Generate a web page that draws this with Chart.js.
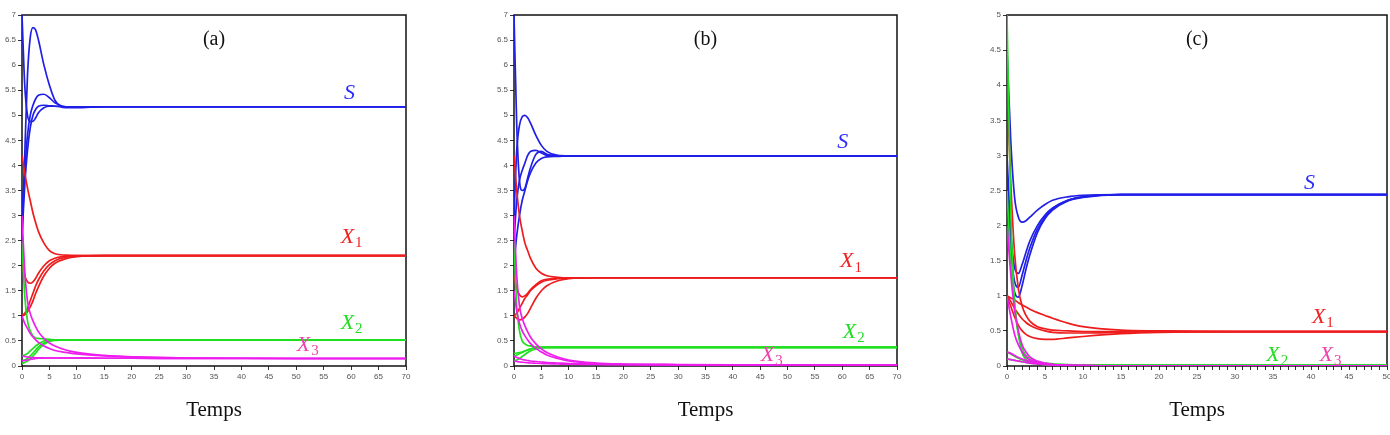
<!DOCTYPE html>
<html>
<head>
<meta charset="utf-8">
<script src="https://cdn.jsdelivr.net/npm/chart.js@4.4.0/dist/chart.umd.min.js"></script>
<style>
  body { margin: 0; background: #fff; width: 1390px; height: 435px; position: relative; overflow: hidden; }
  canvas { position: absolute; top: 0; }
</style>
</head>
<body>
<canvas id="ca" width="420" height="435" style="left:0px"></canvas>
<canvas id="cb" width="420" height="435" style="left:490px"></canvas>
<canvas id="cc" width="420" height="435" style="left:980px"></canvas>
<script>
// time grids
const tA = [0, 0.5, 1, 1.5, 2, 2.5, 3, 4, 5, 6, 8, 10, 15, 20, 30, 50, 70];
const tB = tA;
const tC = [0, 0.5, 1, 1.5, 2, 2.5, 3, 4, 5, 6, 8, 10, 15, 20, 30, 40, 50];

// panel (a)
const aS = [
  [7.0, 5.6, 5.0, 4.88, 4.88, 4.95, 5.05, 5.15, 5.18, 5.18, 5.17, 5.17, 5.17, 5.17, 5.17, 5.17, 5.17],
  [2.5, 4.2, 5.8, 6.55, 6.75, 6.7, 6.5, 6.0, 5.6, 5.3, 5.15, 5.15, 5.17, 5.17, 5.17, 5.17, 5.17],
  [3.0, 3.9, 4.6, 5.0, 5.2, 5.33, 5.4, 5.42, 5.35, 5.25, 5.17, 5.16, 5.17, 5.17, 5.17, 5.17, 5.17],
  [2.6, 3.6, 4.3, 4.75, 5.0, 5.12, 5.18, 5.2, 5.19, 5.18, 5.17, 5.17, 5.17, 5.17, 5.17, 5.17, 5.17]
];
const aX1 = [
  [4.2, 3.85, 3.55, 3.3, 3.05, 2.85, 2.68, 2.45, 2.3, 2.24, 2.21, 2.2, 2.2, 2.2, 2.2, 2.2, 2.2],
  [2.05, 1.8, 1.68, 1.65, 1.68, 1.75, 1.85, 2.0, 2.1, 2.15, 2.19, 2.2, 2.2, 2.2, 2.2, 2.2, 2.2],
  [1.0, 1.05, 1.15, 1.3, 1.45, 1.6, 1.72, 1.9, 2.02, 2.1, 2.17, 2.19, 2.2, 2.2, 2.2, 2.2, 2.2],
  [1.0, 1.02, 1.08, 1.18, 1.3, 1.45, 1.58, 1.8, 1.95, 2.05, 2.14, 2.18, 2.2, 2.2, 2.2, 2.2, 2.2]
];
const aX2 = [
  [2.5, 1.4, 0.9, 0.7, 0.6, 0.56, 0.55, 0.54, 0.53, 0.52, 0.52, 0.52, 0.52, 0.52, 0.52, 0.52, 0.52],
  [0.2, 0.22, 0.25, 0.3, 0.35, 0.4, 0.44, 0.5, 0.52, 0.52, 0.52, 0.52, 0.52, 0.52, 0.52, 0.52, 0.52],
  [0.1, 0.12, 0.15, 0.2, 0.26, 0.32, 0.38, 0.46, 0.5, 0.52, 0.52, 0.52, 0.52, 0.52, 0.52, 0.52, 0.52],
  [0.05, 0.07, 0.1, 0.14, 0.2, 0.26, 0.33, 0.43, 0.49, 0.51, 0.52, 0.52, 0.52, 0.52, 0.52, 0.52, 0.52]
];
const aX3 = [
  [3.0, 1.9, 1.3, 1.05, 0.9, 0.78, 0.68, 0.55, 0.46, 0.4, 0.32, 0.27, 0.21, 0.18, 0.16, 0.15, 0.15],
  [1.0, 0.85, 0.75, 0.65, 0.58, 0.52, 0.47, 0.4, 0.35, 0.31, 0.27, 0.24, 0.2, 0.18, 0.16, 0.15, 0.15],
  [0.1, 0.11, 0.12, 0.13, 0.14, 0.15, 0.155, 0.16, 0.16, 0.16, 0.16, 0.16, 0.155, 0.155, 0.15, 0.15, 0.15],
  [0.2, 0.19, 0.18, 0.17, 0.17, 0.165, 0.165, 0.16, 0.16, 0.16, 0.16, 0.16, 0.155, 0.155, 0.15, 0.15, 0.15]
];

// panel (b)
const bS = [
  [7.0, 4.8, 3.7, 3.5, 3.55, 3.75, 3.95, 4.22, 4.28, 4.22, 4.19, 4.19, 4.19, 4.19, 4.19, 4.19, 4.19],
  [3.0, 4.3, 4.8, 4.97, 5.0, 4.95, 4.85, 4.6, 4.4, 4.28, 4.2, 4.19, 4.19, 4.19, 4.19, 4.19, 4.19],
  [2.05, 2.6, 3.0, 3.3, 3.5, 3.7, 3.85, 4.05, 4.14, 4.17, 4.18, 4.19, 4.19, 4.19, 4.19, 4.19, 4.19],
  [2.5, 3.3, 3.7, 3.9, 4.05, 4.2, 4.28, 4.3, 4.25, 4.2, 4.19, 4.19, 4.19, 4.19, 4.19, 4.19, 4.19]
];
const bX1 = [
  [4.2, 3.5, 3.0, 2.7, 2.45, 2.3, 2.15, 1.95, 1.85, 1.8, 1.77, 1.76, 1.76, 1.76, 1.76, 1.76, 1.76],
  [1.8, 1.55, 1.42, 1.38, 1.4, 1.45, 1.52, 1.62, 1.7, 1.73, 1.75, 1.76, 1.76, 1.76, 1.76, 1.76, 1.76],
  [1.0, 0.95, 0.92, 0.93, 0.98, 1.05, 1.15, 1.35, 1.5, 1.6, 1.7, 1.74, 1.76, 1.76, 1.76, 1.76, 1.76],
  [1.0, 1.05, 1.15, 1.25, 1.35, 1.42, 1.5, 1.6, 1.67, 1.71, 1.74, 1.75, 1.76, 1.76, 1.76, 1.76, 1.76]
];
const bX2 = [
  [2.5, 1.2, 0.7, 0.5, 0.44, 0.41, 0.4, 0.38, 0.37, 0.37, 0.37, 0.37, 0.37, 0.37, 0.37, 0.37, 0.37],
  [0.2, 0.22, 0.25, 0.27, 0.3, 0.32, 0.34, 0.36, 0.37, 0.37, 0.37, 0.37, 0.37, 0.37, 0.37, 0.37, 0.37],
  [0.1, 0.12, 0.15, 0.19, 0.23, 0.27, 0.3, 0.34, 0.36, 0.37, 0.37, 0.37, 0.37, 0.37, 0.37, 0.37, 0.37],
  [0.25, 0.26, 0.27, 0.28, 0.3, 0.32, 0.34, 0.36, 0.37, 0.37, 0.37, 0.37, 0.37, 0.37, 0.37, 0.37, 0.37]
];
const bX3 = [
  [3.0, 1.8, 1.2, 0.95, 0.8, 0.68, 0.58, 0.44, 0.34, 0.27, 0.18, 0.12, 0.06, 0.04, 0.03, 0.02, 0.02],
  [1.5, 1.1, 0.85, 0.7, 0.6, 0.52, 0.45, 0.35, 0.28, 0.22, 0.15, 0.1, 0.05, 0.035, 0.025, 0.02, 0.02],
  [0.2, 0.17, 0.15, 0.13, 0.12, 0.11, 0.1, 0.09, 0.08, 0.07, 0.06, 0.05, 0.04, 0.03, 0.02, 0.02, 0.02],
  [0.1, 0.09, 0.08, 0.075, 0.07, 0.065, 0.06, 0.055, 0.05, 0.045, 0.04, 0.035, 0.03, 0.025, 0.02, 0.02, 0.02]
];

// panel (c)
const cS = [
  [4.5, 3.2, 2.4, 2.12, 2.05, 2.07, 2.12, 2.22, 2.3, 2.36, 2.41, 2.43, 2.44, 2.44, 2.44, 2.44, 2.44],
  [3.0, 1.9, 1.4, 1.32, 1.45, 1.62, 1.78, 2.0, 2.15, 2.25, 2.36, 2.41, 2.44, 2.44, 2.44, 2.44, 2.44],
  [2.5, 1.5, 1.05, 0.98, 1.15, 1.38, 1.58, 1.9, 2.1, 2.22, 2.35, 2.4, 2.44, 2.44, 2.44, 2.44, 2.44],
  [2.8, 1.7, 1.2, 1.12, 1.3, 1.5, 1.68, 1.95, 2.12, 2.24, 2.36, 2.41, 2.44, 2.44, 2.44, 2.44, 2.44]
];
const cX1 = [
  [4.0, 2.6, 1.6, 1.1, 0.85, 0.72, 0.64, 0.56, 0.53, 0.51, 0.5, 0.49, 0.49, 0.49, 0.49, 0.49, 0.49],
  [1.0, 0.97, 0.94, 0.9, 0.87, 0.84, 0.81, 0.76, 0.72, 0.68, 0.61, 0.56, 0.51, 0.5, 0.49, 0.49, 0.49],
  [1.0, 0.92, 0.82, 0.74, 0.67, 0.62, 0.58, 0.53, 0.5, 0.48, 0.47, 0.47, 0.48, 0.49, 0.49, 0.49, 0.49],
  [1.0, 0.85, 0.7, 0.58, 0.5, 0.45, 0.42, 0.39, 0.38, 0.38, 0.4, 0.42, 0.46, 0.48, 0.49, 0.49, 0.49]
];
const cX2 = [
  [5.0, 2.2, 0.9, 0.45, 0.25, 0.15, 0.1, 0.06, 0.04, 0.03, 0.02, 0.015, 0.01, 0.01, 0.01, 0.01, 0.01],
  [2.5, 1.5, 0.9, 0.45, 0.18, 0.1, 0.07, 0.05, 0.03, 0.02, 0.015, 0.01, 0.01, 0.01, 0.01, 0.01, 0.01],
  [0.2, 0.17, 0.14, 0.11, 0.09, 0.07, 0.06, 0.04, 0.03, 0.02, 0.01, 0.01, 0.01, 0.01, 0.01, 0.01, 0.01],
  [0.1, 0.09, 0.08, 0.07, 0.06, 0.05, 0.04, 0.03, 0.02, 0.015, 0.01, 0.01, 0.01, 0.01, 0.01, 0.01, 0.01]
];
const cX3 = [
  [2.0, 1.3, 0.8, 0.5, 0.3, 0.2, 0.13, 0.07, 0.04, 0.02, 0.01, 0.005, 0, 0, 0, 0, 0],
  [1.0, 0.7, 0.45, 0.3, 0.2, 0.13, 0.09, 0.05, 0.03, 0.02, 0.01, 0.005, 0, 0, 0, 0, 0],
  [0.2, 0.18, 0.15, 0.12, 0.1, 0.08, 0.06, 0.04, 0.03, 0.02, 0.01, 0.005, 0, 0, 0, 0, 0],
  [0.1, 0.09, 0.08, 0.07, 0.06, 0.05, 0.04, 0.03, 0.02, 0.015, 0.01, 0.005, 0, 0, 0, 0, 0]
];

const colS = '#1f1fe8', colX1 = '#ee1c1c', colX2 = '#1ee01e', colX3 = '#ee1cee';
const serif = '"Liberation Serif", "DejaVu Serif", serif';

function curves(t, sets, color) {
  return sets.map(v => ({
    data: v.map((y, i) => ({ x: t[i], y: y })),
    borderColor: color,
    borderWidth: 1.7,
    pointRadius: 0,
    cubicInterpolationMode: 'monotone',
    fill: false
  }));
}

function drawMath(ctx, x, y, txt, sub, color) {
  ctx.fillStyle = color;
  ctx.textBaseline = 'middle';
  ctx.textAlign = 'left';
  ctx.font = 'italic 22px ' + serif;
  const w = ctx.measureText(txt).width;
  ctx.font = '15px ' + serif;
  const ws = sub ? ctx.measureText(sub).width : 0;
  const x0 = x - (w + ws) / 2;
  ctx.font = 'italic 22px ' + serif;
  ctx.fillText(txt, x0, y);
  if (sub) {
    ctx.font = '15px ' + serif;
    ctx.fillText(sub, x0 + w + 1, y + 6);
  }
}

const decor = {
  id: 'decor',
  beforeDatasetsDraw(chart) {
    const { ctx, chartArea: a } = chart;
    ctx.save();
    ctx.strokeStyle = '#111';
    ctx.lineWidth = 1.5;
    ctx.strokeRect(a.left, a.top, a.right - a.left, a.bottom - a.top);
    ctx.restore();
  },
  afterDraw(chart, args, o) {
    const { ctx, chartArea: a, scales } = chart;
    ctx.save();
    const cx = (a.left + a.right) / 2;
    ctx.fillStyle = '#111';
    ctx.textAlign = 'center';
    ctx.textBaseline = 'middle';
    ctx.font = '20px ' + serif;
    ctx.fillText(o.tag, cx, 40);
    ctx.font = '21px ' + serif;
    ctx.fillText('Temps', cx, 410);
    o.labels.forEach(l => {
      drawMath(ctx, scales.x.getPixelForValue(l.t), scales.y.getPixelForValue(l.v), l.txt, l.sub, l.color);
    });
    ctx.restore();
  }
};

function makePanel(id, t, S, X1, X2, X3, cfg) {
  new Chart(document.getElementById(id), {
    type: 'line',
    data: {
      datasets: [].concat(curves(t, X3, colX3), curves(t, X2, colX2), curves(t, X1, colX1), curves(t, S, colS))
    },
    options: {
      responsive: false,
      animation: false,
      layout: { padding: { top: 15, right: cfg.padRight, bottom: 49, left: 0 } },
      plugins: {
        legend: { display: false },
        tooltip: { enabled: false },
        decor: { tag: cfg.tag, labels: cfg.labels }
      },
      scales: {
        x: {
          type: 'linear',
          min: 0,
          max: cfg.xMax,
          afterFit: s => { s.height = 20; },
          border: { display: false },
          grid: { drawOnChartArea: false, drawTicks: true, tickLength: 4, color: '#333' },
          ticks: {
            stepSize: cfg.xStep,
            autoSkip: false,
            maxTicksLimit: 100,
            maxRotation: 0,
            padding: 2,
            color: '#555',
            font: { size: 8, family: '"Liberation Sans", Arial, sans-serif' },
            callback: v => (v % 5 === 0 ? String(v) : '')
          }
        },
        y: {
          min: 0,
          max: cfg.yMax,
          afterFit: s => { s.width = cfg.yWidth; },
          border: { display: false },
          grid: { drawOnChartArea: false, drawTicks: true, tickLength: 4, color: '#333' },
          ticks: {
            stepSize: 0.5,
            autoSkip: false,
            maxTicksLimit: 100,
            padding: 2,
            color: '#555',
            font: { size: 8, family: '"Liberation Sans", Arial, sans-serif' },
            callback: v => String(Math.round(v * 10) / 10)
          }
        }
      }
    },
    plugins: [decor]
  });
}

makePanel('ca', tA, aS, aX1, aX2, aX3, {
  tag: '(a)', xMax: 70, xStep: 5, yMax: 7, yWidth: 22, padRight: 14,
  labels: [
    { t: 59.7, v: 5.45, txt: 'S', sub: '', color: '#2a2aff' },
    { t: 60, v: 2.57, txt: 'X', sub: '1', color: '#ee2222' },
    { t: 60, v: 0.86, txt: 'X', sub: '2', color: '#22dd22' },
    { t: 52, v: 0.42, txt: 'X', sub: '3', color: '#ee44aa' }
  ]
});
makePanel('cb', tB, bS, bX1, bX2, bX3, {
  tag: '(b)', xMax: 70, xStep: 5, yMax: 7, yWidth: 24, padRight: 13,
  labels: [
    { t: 60.1, v: 4.47, txt: 'S', sub: '', color: '#2a2aff' },
    { t: 61.5, v: 2.08, txt: 'X', sub: '1', color: '#ee2222' },
    { t: 62, v: 0.68, txt: 'X', sub: '2', color: '#22dd22' },
    { t: 47, v: 0.22, txt: 'X', sub: '3', color: '#ee44aa' }
  ]
});
makePanel('cc', tC, cS, cX1, cX2, cX3, {
  tag: '(c)', xMax: 50, xStep: 1, yMax: 5, yWidth: 27, padRight: 13,
  labels: [
    { t: 39.8, v: 2.61, txt: 'S', sub: '', color: '#2a2aff' },
    { t: 41.5, v: 0.70, txt: 'X', sub: '1', color: '#ee2222' },
    { t: 35.5, v: 0.16, txt: 'X', sub: '2', color: '#22dd22' },
    { t: 42.5, v: 0.16, txt: 'X', sub: '3', color: '#ee44aa' }
  ]
});
</script>
</body>
</html>
